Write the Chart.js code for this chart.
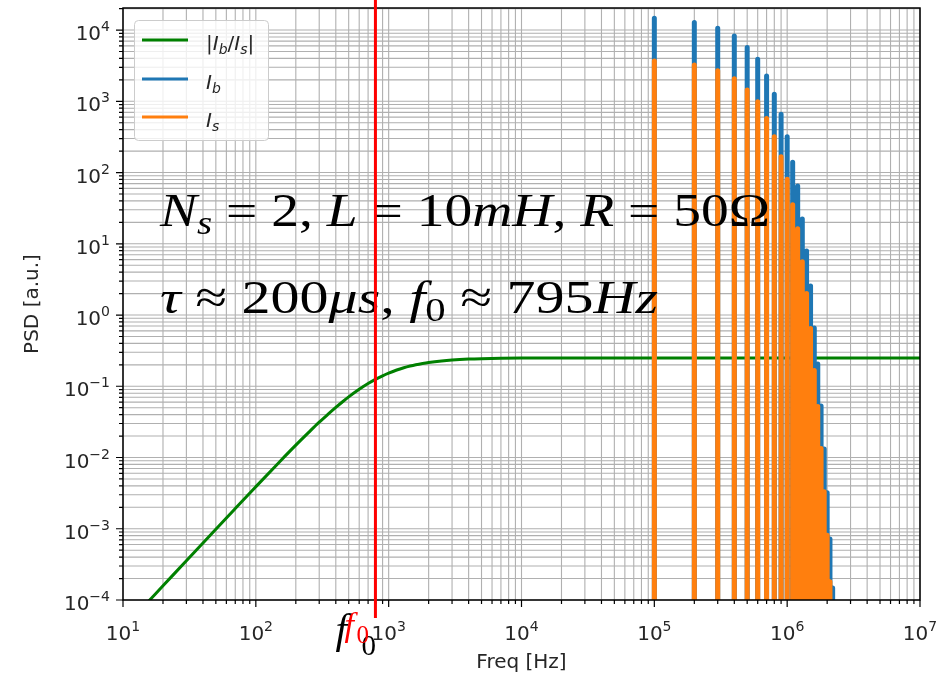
<!DOCTYPE html>
<html>
<head>
<meta charset="utf-8">
<script src="https://cdn.jsdelivr.net/npm/chart.js@4.4.1/dist/chart.umd.min.js"></script>
<style>
  html, body { margin: 0; padding: 0; background: #fff; }
  #psdChart { display: block; }
</style>
</head>
<body>
<canvas id="psdChart" width="937" height="678"></canvas>
<script>
// harmonics of the switching frequency (Hz) and their PSD peaks
const harmonicFreqs = [1e5, 2e5, 3e5, 4e5, 5e5, 6e5, 7e5, 8e5, 9e5, 1.0e6, 1.1e6,
    1.2e6, 1.3e6, 1.4e6, 1.5e6, 1.6e6, 1.7e6, 1.8e6, 1.9e6, 2.0e6, 2.1e6, 2.2e6];
const ibPeaks = [14600, 12800, 10600, 8240, 5710, 3880, 2260, 1260, 656, 318, 140,
    64.6, 22.2, 7.9, 2.55, 0.66, 0.205, 0.053, 0.0132, 0.0032, 0.00072, 0.000147];
const isPeaks = [3690, 3240, 2680, 2080, 1440, 982, 572, 319, 166, 80.5, 35.4,
    16.3, 5.6, 2.0, 0.645, 0.167, 0.052, 0.0134, 0.0033, 0.00081, 0.00018, 0.000037];

// |Ib/Is| transfer curve
const ratioFreqs = [10, 15, 20, 30, 50, 70, 100, 150, 200, 250, 300, 350, 400, 450, 500,
    600, 700, 795, 900, 1000, 1150, 1300, 1450, 1600, 1800, 2000, 2500, 3000, 4000,
    5000, 7000, 1e4, 1e5, 1e6, 1e7];
const ratioValues = [3.95e-5, 8.9e-5, 1.58e-4, 3.56e-4, 9.85e-4, 1.92e-3, 3.89e-3,
    8.6e-3, 1.49e-2, 2.25e-2, 3.13e-2, 4.06e-2, 5.05e-2, 6.07e-2, 7.1e-2, 9.07e-2,
    0.1092, 0.125, 0.1404, 0.153, 0.1692, 0.182, 0.1922, 0.2005, 0.2092, 0.216, 0.227,
    0.2336, 0.2405, 0.2438, 0.2468, 0.2484, 0.25, 0.25, 0.25];

const f0 = 795;
const xTicks = [1e1, 1e2, 1e3, 1e4, 1e5, 1e6, 1e7];
const yTicks = [1e-4, 1e-3, 1e-2, 1e-1, 1e0, 1e1, 1e2, 1e3, 1e4];
const yMax = 2.04e4;
const floorValue = 1e-9; // spikes start below the visible range

function spikes(peaks) {
    const pts = [];
    harmonicFreqs.forEach((f, i) => {
        pts.push({ x: f, y: floorValue }, { x: f, y: peaks[i] }, { x: f, y: floorValue });
    });
    return pts;
}

function minorValues(ticks, top) {
    const out = [];
    for (let i = 0; i < ticks.length; i++) {
        for (let m = 1; m <= 9; m++) {
            const v = ticks[i] * m;
            if (v <= top * 1.0001) out.push({ v, major: m === 1 });
        }
    }
    return out;
}

const TICK_FONT = '20px "DejaVu Sans"';
const SUP_FONT = '14px "DejaVu Sans"';

function drawRich(ctx, parts, x, y, align) {
    let w = 0;
    for (const p of parts) { ctx.font = p[1]; w += ctx.measureText(p[0]).width; }
    let cx = align === 'right' ? x - w : align === 'center' ? x - w / 2 : x;
    for (const p of parts) {
        ctx.font = p[1];
        ctx.fillText(p[0], cx, y + (p[2] || 0));
        cx += ctx.measureText(p[0]).width;
    }
    return w;
}

function powLabel(v) {
    const k = Math.round(Math.log10(v));
    const e = k < 0 ? '\u2212' + (-k) : String(k);
    return [['10', TICK_FONT, 0], [e, SUP_FONT, -9]];
}

// math text drawn stretched to the width it takes in the figure
function drawMath(ctx, parts, x, y, targetWidth) {
    let w = 0;
    for (const p of parts) { ctx.font = p[1]; w += ctx.measureText(p[0]).width; }
    ctx.save();
    ctx.translate(x, y);
    ctx.scale(targetWidth / w, 1);
    drawRich(ctx, parts, 0, 0, 'left');
    ctx.restore();
}

const decor = {
    id: 'decor',
    beforeDatasetsDraw(chart) {
        const { ctx, chartArea: a, scales: { x, y } } = chart;
        ctx.save();
        ctx.strokeStyle = '#b0b0b0';
        ctx.lineWidth = 1.1;
        ctx.beginPath();
        for (const g of minorValues(xTicks, 1e7)) {
            const px = x.getPixelForValue(g.v);
            ctx.moveTo(px, a.top); ctx.lineTo(px, a.bottom);
        }
        for (const g of minorValues(yTicks, yMax)) {
            const py = y.getPixelForValue(g.v);
            ctx.moveTo(a.left, py); ctx.lineTo(a.right, py);
        }
        ctx.stroke();
        ctx.restore();
    },
    afterDatasetsDraw(chart) {
        const { ctx, chartArea: a, scales: { x, y } } = chart;
        ctx.save();
        ctx.textAlign = 'left';
        ctx.textBaseline = 'alphabetic';

        // annotation
        ctx.fillStyle = '#000';
        const R = '47px "Liberation Serif"', I = 'italic 47px "Liberation Serif"';
        const Rs = '33px "Liberation Serif"', Is = 'italic 33px "Liberation Serif"';
        drawMath(ctx, [['N', I], ['s', Is, 8], [' = ', R], ['2', R], [', ', R], ['L', I],
            [' = ', R], ['10', R], ['mH', I], [', ', R], ['R', I], [' = ', R], ['50\u03A9', R]],
            160, 226, 610);
        drawMath(ctx, [['\u03C4', I], [' \u2248 ', R], ['200', R], ['\u03BCs', I], [', ', R],
            ['f', I], ['0', Rs, 8], [' \u2248 ', R], ['795', R], ['Hz', I]],
            160, 313, 498);

        // spines
        ctx.strokeStyle = '#000';
        ctx.lineWidth = 1.5;
        ctx.strokeRect(a.left, a.top, a.right - a.left, a.bottom - a.top);

        // tick marks
        ctx.lineWidth = 1.2;
        ctx.beginPath();
        for (const g of minorValues(xTicks, 1e7)) {
            const px = x.getPixelForValue(g.v);
            ctx.moveTo(px, a.bottom); ctx.lineTo(px, a.bottom + (g.major ? 7 : 4));
        }
        for (const g of minorValues(yTicks, yMax)) {
            const py = y.getPixelForValue(g.v);
            ctx.moveTo(a.left, py); ctx.lineTo(a.left - (g.major ? 7 : 4), py);
        }
        ctx.stroke();

        // tick labels
        ctx.fillStyle = '#262626';
        for (const v of xTicks) drawRich(ctx, powLabel(v), x.getPixelForValue(v), 640, 'center');
        for (const v of yTicks) drawRich(ctx, powLabel(v), 110, y.getPixelForValue(v) + 10, 'right');

        // axis titles
        ctx.font = TICK_FONT;
        ctx.textAlign = 'center';
        ctx.fillText('Freq [Hz]', (a.left + a.right) / 2, 668);
        ctx.save();
        ctx.translate(38, (a.top + a.bottom) / 2);
        ctx.rotate(-Math.PI / 2);
        ctx.fillText('PSD [a.u.]', 0, 0);
        ctx.restore();
        ctx.textAlign = 'left';

        // legend
        ctx.beginPath();
        ctx.roundRect(134.5, 20.5, 134, 120, 4);
        ctx.fillStyle = 'rgba(255,255,255,0.8)';
        ctx.fill();
        ctx.strokeStyle = '#cccccc';
        ctx.lineWidth = 1;
        ctx.stroke();
        const entries = [
            { color: '#008000', y: 40, text: [['|', TICK_FONT], ['I', 'italic ' + TICK_FONT], ['b', 'italic ' + SUP_FONT, 4],
                ['/', TICK_FONT], ['I', 'italic ' + TICK_FONT], ['s', 'italic ' + SUP_FONT, 4], ['|', TICK_FONT]] },
            { color: '#1f77b4', y: 79, text: [['I', 'italic ' + TICK_FONT], ['b', 'italic ' + SUP_FONT, 4]] },
            { color: '#ff7f0e', y: 117, text: [['I', 'italic ' + TICK_FONT], ['s', 'italic ' + SUP_FONT, 4]] }
        ];
        for (const e of entries) {
            ctx.strokeStyle = e.color;
            ctx.lineWidth = 3;
            ctx.beginPath();
            ctx.moveTo(142, e.y); ctx.lineTo(188, e.y);
            ctx.stroke();
            ctx.fillStyle = '#262626';
            drawRich(ctx, e.text, 206, e.y + 10, 'left');
        }

        // f0 marker line, runs past the axes
        const fx = x.getPixelForValue(f0);
        ctx.strokeStyle = '#ff0000';
        ctx.lineWidth = 3;
        ctx.beginPath();
        ctx.moveTo(fx, 0); ctx.lineTo(fx, 618);
        ctx.stroke();

        // f0 labels under the axis (black one, red one drawn over it)
        ctx.fillStyle = '#000';
        ctx.font = 'italic 42px "Liberation Serif"';
        ctx.fillText('f', fx - 40, 643);
        ctx.font = '29px "Liberation Serif"';
        ctx.fillText('0', fx - 14, 655);
        ctx.fillStyle = '#ff0000';
        ctx.font = 'italic 34px "Liberation Serif"';
        ctx.fillText('f', fx - 31, 636);
        ctx.font = '25px "Liberation Serif"';
        ctx.fillText('0', fx - 19, 643);

        ctx.restore();
    }
};

const ctx = document.getElementById('psdChart').getContext('2d');
new Chart(ctx, {
    type: 'line',
    data: {
        datasets: [
            {
                label: '|Ib/Is|',
                data: ratioFreqs.map((f, i) => ({ x: f, y: ratioValues[i] })),
                borderColor: '#008000',
                borderWidth: 3,
                pointRadius: 0,
                cubicInterpolationMode: 'monotone',
                order: 3
            },
            {
                label: 'Ib',
                data: spikes(ibPeaks),
                borderColor: '#1f77b4',
                borderWidth: 5,
                pointRadius: 0,
                borderJoinStyle: 'round',
                order: 2
            },
            {
                label: 'Is',
                data: spikes(isPeaks),
                borderColor: '#ff7f0e',
                borderWidth: 5,
                pointRadius: 0,
                borderJoinStyle: 'round',
                order: 1
            }
        ]
    },
    options: {
        responsive: false,
        animation: false,
        devicePixelRatio: 1,
        layout: { padding: { left: 123, top: 8, right: 17, bottom: 78 } },
        plugins: {
            legend: { display: false },
            tooltip: { enabled: false }
        },
        scales: {
            x: { type: 'logarithmic', min: 10, max: 1e7, display: false },
            y: { type: 'logarithmic', min: 1e-4, max: yMax, display: false }
        }
    },
    plugins: [decor]
});
</script>
</body>
</html>
